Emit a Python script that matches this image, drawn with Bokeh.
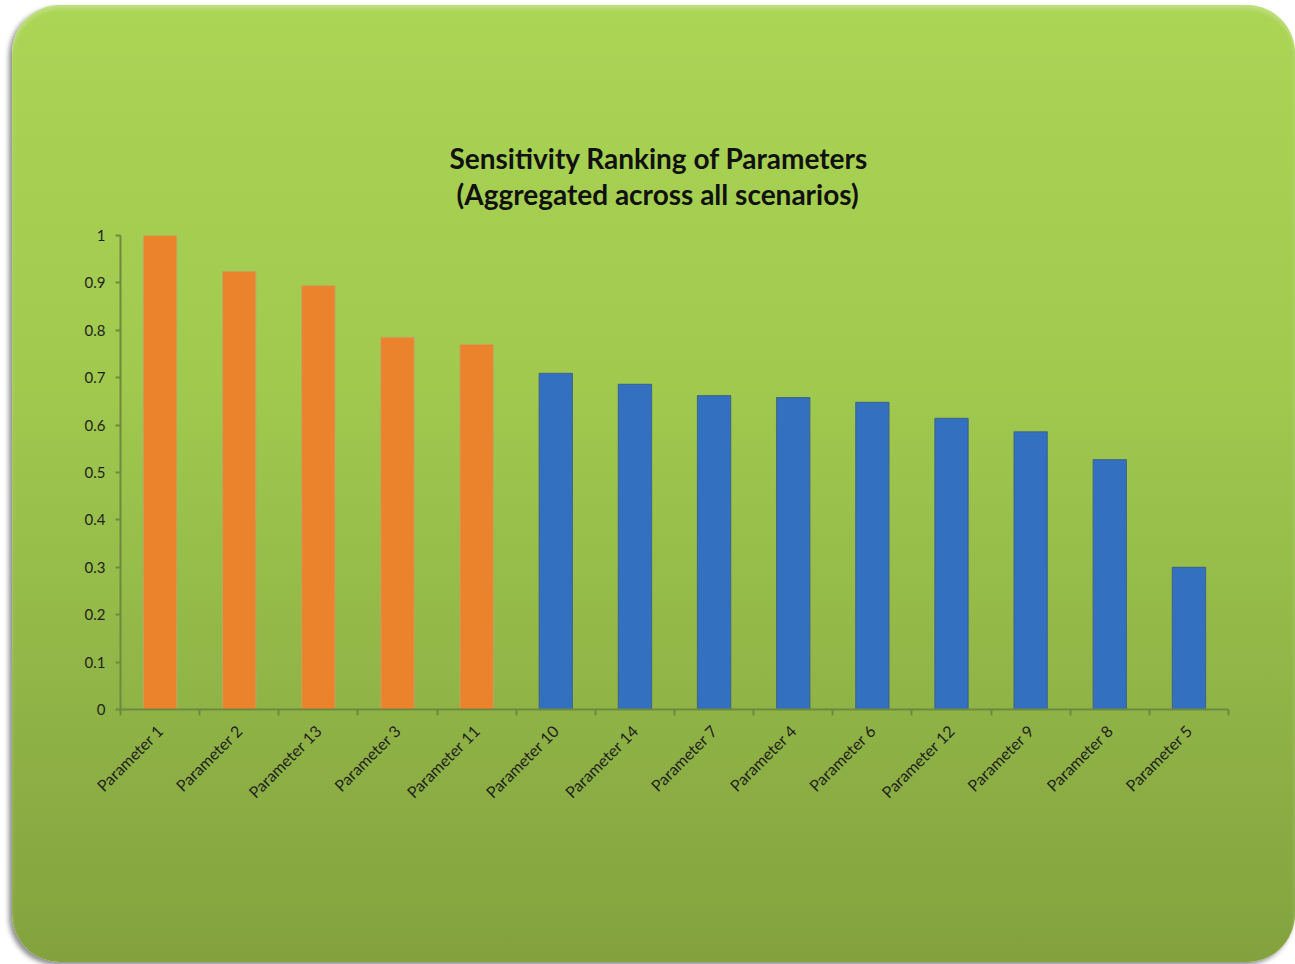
from bokeh.plotting import figure
from bokeh.models import Title, FixedTicker, NumeralTickFormatter, Range1d, ColumnDataSource
from bokeh.embed import file_html
from bokeh.resources import INLINE
import math

# ---- data ----
params = ["Parameter 1", "Parameter 2", "Parameter 13", "Parameter 3", "Parameter 11",
          "Parameter 10", "Parameter 14", "Parameter 7", "Parameter 4", "Parameter 6",
          "Parameter 12", "Parameter 9", "Parameter 8", "Parameter 5"]
sensitivity = [1.0, 0.924, 0.894, 0.785, 0.770,
               0.709, 0.686, 0.662, 0.658, 0.648,
               0.614, 0.586, 0.527, 0.300]
group = ["high"] * 5 + ["low"] * 9
y_ticks = [0, 0.1, 0.2, 0.3, 0.4, 0.5, 0.6, 0.7, 0.8, 0.9, 1.0]
title_lines = ["Sensitivity Ranking of Parameters", "(Aggregated across all scenarios)"]

fill_map = {"high": "#ea832b", "low": "#3470c0"}
line_map = {"high": "#c9a060", "low": "#3a5f8a"}

n = len(params)
xs = [i + 0.5 for i in range(n)]
src = ColumnDataSource(dict(
    x=xs, top=sensitivity, name=params,
    fill=[fill_map[g] for g in group],
    line=[line_map[g] for g in group],
))

W, H = 1283, 957
p = figure(width=W, height=H, output_backend="svg", toolbar_location=None,
           x_range=Range1d(0, n), y_range=Range1d(0, 1),
           min_border_left=108, min_border_right=67,
           min_border_top=230, min_border_bottom=253)
p.margin = (5, 0, 0, 12)
p.styles = {
    "border-radius": "48px",
    "background": "linear-gradient(to bottom, #abd555 0%, #a0c94e 40%, #8fb246 75%, #83a23e 100%)",
    "box-shadow": "-3px 3px 5px rgba(0,0,0,0.45), inset 0 4px 4px rgba(255,255,255,0.25)",
}
p.border_fill_color = None
p.background_fill_color = None
p.outline_line_color = None
p.grid.visible = False

p.vbar(x="x", top="top", bottom=0, width=0.42, source=src,
       fill_color="fill", line_color="line", line_width=1.2, line_alpha=0.8)

axis_color = "#6d8a3f"
font = "Lato"

# y axis
ya = p.yaxis[0]
ya.ticker = FixedTicker(ticks=y_ticks, minor_ticks=[])
ya.formatter = NumeralTickFormatter(format="0.[0]")
ya.axis_line_color = axis_color
ya.axis_line_width = 2
ya.major_tick_line_color = axis_color
ya.major_tick_line_width = 2
ya.major_tick_in = 0
ya.major_tick_out = 5
ya.minor_tick_line_color = None
ya.major_label_text_font = font
ya.major_label_text_font_size = "15px"
ya.major_label_text_color = "#1f1f1f"
ya.major_label_standoff = 10

# x axis
xa = p.xaxis[0]
xa.ticker = FixedTicker(ticks=xs, minor_ticks=list(range(n + 1)))
xa.major_label_overrides = {x: name for x, name in zip(xs, params)}
xa.axis_line_color = axis_color
xa.axis_line_width = 2
xa.major_tick_line_color = None
xa.minor_tick_line_color = axis_color
xa.minor_tick_line_width = 2
xa.minor_tick_in = 0
xa.minor_tick_out = 6
xa.major_label_orientation = math.pi / 4
xa.major_label_text_font = font
xa.major_label_text_font_size = "16px"
xa.major_label_text_color = "#1f1f1f"
xa.major_label_standoff = 12

# two-line title (second line added first: it sits closest to the frame)
t2 = Title(text=title_lines[1], align="left", offset=336,
           text_font=font, text_font_size="28px", text_font_style="bold",
           text_color="#111111", standoff=50)
t1 = Title(text=title_lines[0], align="left", offset=329,
           text_font=font, text_font_size="28px", text_font_style="bold",
           text_color="#111111", standoff=-50)
p.add_layout(t2, "above")
p.add_layout(t1, "above")

open("out.html", "w").write(file_html(p, INLINE))
